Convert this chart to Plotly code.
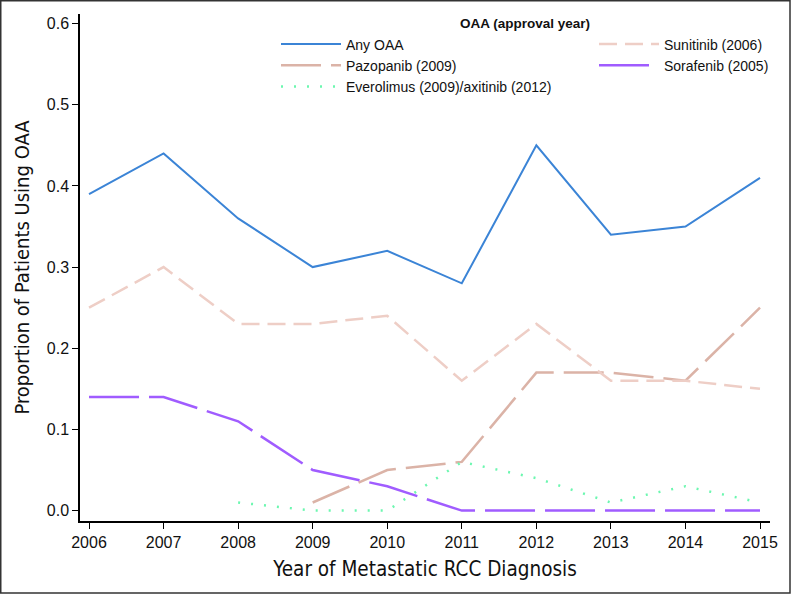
import plotly.graph_objects as go

years = [2006, 2007, 2008, 2009, 2010, 2011, 2012, 2013, 2014, 2015]
any_oaa = [0.39, 0.44, 0.36, 0.30, 0.32, 0.28, 0.45, 0.34, 0.35, 0.41]
sunitinib = [0.25, 0.30, 0.23, 0.23, 0.24, 0.16, 0.23, 0.16, 0.16, 0.15]
pazo_years = [2009, 2010, 2011, 2012, 2013, 2014, 2015]
pazopanib = [0.01, 0.05, 0.06, 0.17, 0.17, 0.16, 0.25]
sorafenib = [0.14, 0.14, 0.11, 0.05, 0.03, 0.00, 0.00, 0.00, 0.00, 0.00]
evero_years = [2008, 2009, 2010, 2011, 2012, 2013, 2014, 2015]
everolimus = [0.01, 0.00, 0.00, 0.06, 0.04, 0.01, 0.03, 0.01]
y_ticks = [0, 0.1, 0.2, 0.3, 0.4, 0.5, 0.6]
y_ticktext = ["0.0", "0.1", "0.2", "0.3", "0.4", "0.5", "0.6"]

W, H = 792, 597
L, R, T, B = 80, 22, 14, 76
PW, PH = W - L - R, H - T - B


def px_x(p):
    return (p - L) / PW


def px_y(p):
    return (H - B - p) / PH


fig = go.Figure()
fig.add_trace(go.Scatter(x=years, y=any_oaa, mode="lines", name="Any OAA", legend="legend",
                         line=dict(color="#3b84d6", width=2)))
fig.add_trace(go.Scatter(x=pazo_years, y=pazopanib, mode="lines", name="Pazopanib (2009)", legend="legend",
                         line=dict(color="#dbb3a7", width=2.5, dash="40px,10px")))
fig.add_trace(go.Scatter(x=evero_years, y=everolimus, mode="lines",
                         name="Everolimus (2009)/axitinib (2012)", legend="legend",
                         line=dict(color="#6cf7b0", width=2.5, dash="2px,11px")))
fig.add_trace(go.Scatter(x=years, y=sunitinib, mode="lines", name="Sunitinib (2006)", legend="legend2",
                         line=dict(color="#eecec6", width=2.5, dash="18px,8px")))
fig.add_trace(go.Scatter(x=years, y=sorafenib, mode="lines", name="Sorafenib (2005)", legend="legend2",
                         line=dict(color="#a05cff", width=2.5, dash="50px,10px")))

leg_common = dict(orientation="v", yanchor="top", xanchor="left", font=dict(size=14),
                  bgcolor="rgba(0,0,0,0)", itemwidth=60, tracegroupgap=0, traceorder="normal")

fig.update_layout(
    width=W, height=H,
    paper_bgcolor="white", plot_bgcolor="white",
    margin=dict(l=L, r=R, t=T, b=B),
    font=dict(family="Liberation Sans, Arial, sans-serif", color="#111"),
    legend=dict(x=px_x(276), y=px_y(28.5), **leg_common),
    legend2=dict(x=px_x(594), y=px_y(28.5), **leg_common),
    xaxis=dict(
        range=[2005.879, 2015.134], tickmode="array", tickvals=years,
        ticktext=[str(y) for y in years],
        showgrid=False, zeroline=False, showline=True, linecolor="black", linewidth=1.5,
        ticks="outside", ticklen=6, tickcolor="black",
        tickfont=dict(size=16),
        title=dict(text="Year of Metastatic RCC Diagnosis", standoff=12,
                   font=dict(size=20.5, family="DejaVu Sans Condensed, Liberation Sans Narrow, sans-serif")),
    ),
    yaxis=dict(
        range=[-0.0128, 0.6118], tickmode="array", tickvals=y_ticks, ticktext=y_ticktext,
        showgrid=False, zeroline=False, showline=True, linecolor="black", linewidth=1.5,
        ticks="outside", ticklen=6, tickcolor="black",
        tickfont=dict(size=16),
        title=dict(text="Proportion of Patients Using OAA", standoff=12,
                   font=dict(size=20, family="DejaVu Sans Condensed, Liberation Sans Narrow, sans-serif")),
    ),
)
fig.add_annotation(text="<b>OAA (approval year)</b>", xref="paper", yref="paper",
                   x=px_x(525), y=px_y(24), showarrow=False, font=dict(size=13.5, color="#111"),
                   xanchor="center", yanchor="middle")
fig.add_shape(type="rect", xref="paper", yref="paper",
              x0=px_x(0.75), x1=px_x(790), y0=px_y(593), y1=px_y(0.75),
              line=dict(color="#333", width=1.5), layer="above")

fig.write_html("out.html", config={"displayModeBar": False},
               post_script="document.body.style.margin='0px';")
